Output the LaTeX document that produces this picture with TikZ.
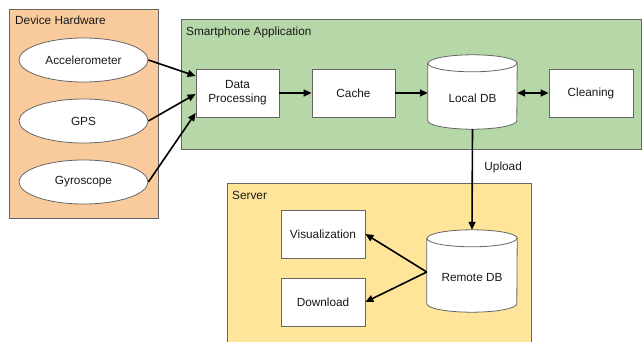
\documentclass[tikz,border=0pt]{standalone}
\usepackage{fontspec}
\setmainfont{Liberation Sans}
\usetikzlibrary{arrows.meta,shapes.geometric,calc}
\definecolor{orangebg}{HTML}{F9CB9C}
\definecolor{greenbg}{HTML}{B6D7A8}
\definecolor{yellowbg}{HTML}{FFE599}
\definecolor{edgegray}{HTML}{666666}
\begin{document}
\begin{tikzpicture}[x=1pt,y=1pt,
  every node/.style={font=\fontsize{11.8}{14}\selectfont, text=black!90},
  group/.style={draw=edgegray, line width=0.8pt},
  proc/.style={draw=edgegray, fill=white, line width=0.8pt, minimum width=84pt, minimum height=48pt, inner sep=0pt, align=center},
  sensor/.style={ellipse, draw=edgegray, fill=white, line width=0.8pt, minimum width=129pt, minimum height=44pt, inner sep=0pt},
  dbshape/.style={minimum width=#1, inner sep=0pt},
  cyl/.style={draw=edgegray, fill=white, line width=0.8pt},
  conn/.style={line width=1.6pt, -{Triangle[length=8pt,width=7pt]}},
  biconn/.style={line width=1.6pt, {Triangle[length=8pt,width=7pt]}-{Triangle[length=8pt,width=7pt]}},
  title/.style={anchor=west, inner sep=0pt}
]
\useasboundingbox (0,0) rectangle (642,341);
\fill[white] (0,0) rectangle (642,341);

% groups
\draw[group, fill=orangebg] (9,123) rectangle (158,332);
\node[title] (dhw) at (15,321) {Device Hardware};
\draw[group, fill=greenbg] (181,192) rectangle (641,322);
\node[title] (sapp) at (186,309) {Smartphone Application};
\draw[group, fill=yellowbg] (227,-5) rectangle (531,158);
\node[title] (srv) at (232,146) {Server};

% sensors
\node[sensor] (acc) at (83.5,281) {Accelerometer};
\node[sensor] (gps) at (83.5,220) {GPS};
\node[sensor] (gyr) at (83.5,159) {Gyroscope};

% processes
\node[proc, minimum width=83pt] (dp) at (237.5,248) {Data\\Processing};
\node[proc, minimum width=83pt] (cache) at (353.5,248) {Cache};
\node[proc] (clean) at (591,248) {Cleaning};
\node[proc] (vis) at (323,107) {Visualization};
\node[proc] (dl) at (323,39) {Download};

% Local DB cylinder
\node[minimum width=89pt, minimum height=74pt, inner sep=0pt] (ldb) at (472.5,249) {};
\draw[cyl] ([yshift=-8.5pt]ldb.north west) -- ([yshift=8.5pt]ldb.south west)
  arc[start angle=180,end angle=360,x radius=44.5pt,y radius=8.5pt]
  -- ([yshift=-8.5pt]ldb.north east)
  arc[start angle=0,end angle=180,x radius=44.5pt,y radius=8.5pt] -- cycle;
\draw[cyl, fill=none] ([yshift=-8.5pt]ldb.north west)
  arc[start angle=180,end angle=360,x radius=44.5pt,y radius=8.5pt];
\node (ldbt) at (472.5,243) {Local DB};

% Remote DB cylinder
\node[minimum width=90pt, minimum height=82pt, inner sep=0pt] (rdb) at (472,70) {};
\draw[cyl] ([yshift=-8.5pt]rdb.north west) -- ([yshift=8.5pt]rdb.south west)
  arc[start angle=180,end angle=360,x radius=45pt,y radius=8.5pt]
  -- ([yshift=-8.5pt]rdb.north east)
  arc[start angle=0,end angle=180,x radius=45pt,y radius=8.5pt] -- cycle;
\draw[cyl, fill=none] ([yshift=-8.5pt]rdb.north west)
  arc[start angle=180,end angle=360,x radius=45pt,y radius=8.5pt];
\node (rdbt) at (472,64) {Remote DB};

% connectors
\draw[conn] (acc.east) -- ([yshift=17pt]dp.west);
\draw[conn] (gps.east) -- ([yshift=-1pt]dp.west);
\draw[conn] (gyr.east) -- ([yshift=-20pt]dp.west);
\draw[conn] (dp.east) -- (cache.west);
\draw[conn] (cache.east) -- ([yshift=-1pt]ldb.west);
\draw[biconn] ([yshift=-1pt]ldb.east) -- (clean.west);
\draw[conn] (ldb.south) -- node[right=8pt, pos=0.38] (upl) {Upload} (rdb.north);
\draw[conn] ([yshift=-1pt]rdb.west) -- (vis.east);
\draw[conn] ([yshift=-1pt]rdb.west) -- (dl.east);
\end{tikzpicture}
\end{document}
